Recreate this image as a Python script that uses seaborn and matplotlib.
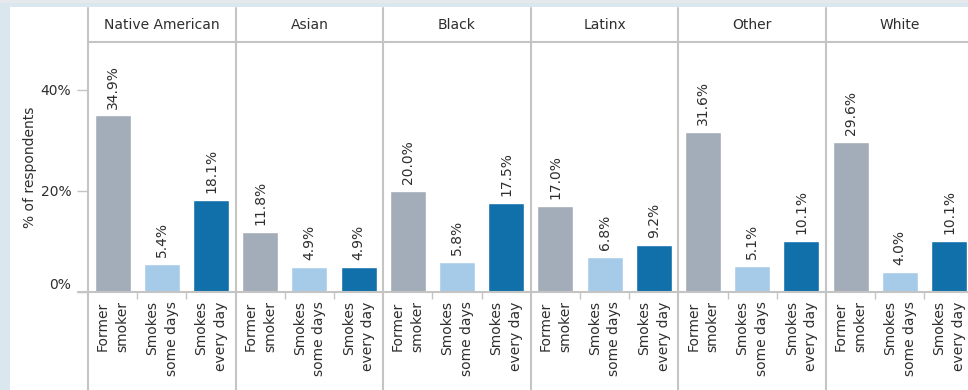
import matplotlib
matplotlib.use('Agg')

import pandas as pd
import matplotlib.pyplot as plt
import seaborn as sns
from matplotlib.lines import Line2D
from matplotlib.patches import Rectangle

# === Data ===
groups = ["Native American", "Asian", "Black", "Latinx", "Other", "White"]
statuses = ["Former\nsmoker", "Smokes\nsome days", "Smokes\nevery day"]
former = [34.9, 11.8, 20.0, 17.0, 31.6, 29.6]
some_days = [5.4, 4.9, 5.8, 6.8, 5.1, 4.0]
every_day = [18.1, 4.9, 17.5, 9.2, 10.1, 10.1]
yticks = [0, 20, 40]
ytick_labels = ["0%", "20%", "40%"]

rows = []
for g, a, b, c in zip(groups, former, some_days, every_day):
    for s, v in zip(statuses, [a, b, c]):
        rows.append({"group": g, "status": s, "pct": v})
df = pd.DataFrame(rows)

palette = dict(zip(statuses, ["#a3acb9", "#a6cbe8", "#1170aa"]))
text_col = "#2e2e2e"
line_col = "#c4c4c4"
fs = 10

sns.set_style("white")
plt.rcParams['font.family'] = ['DejaVu Sans']

W, H = 968, 390
fig = plt.figure(figsize=(W / 100, H / 100), dpi=100)
fig.patch.set_facecolor("#dae7ef")
fig.add_artist(Rectangle((10 / W, 0), 1, (H - 7) / H, transform=fig.transFigure,
                         facecolor="white", edgecolor="none", zorder=0))
fig.add_artist(Rectangle((0, (H - 3) / H), 1, 3 / H, transform=fig.transFigure,
                         facecolor="#e6e9ec", edgecolor="none", zorder=0))


def fx(px):
    return px / W


def fy(py):
    return 1 - py / H


x0, pw = 88, 147.6
top, base = 42, 291.7
ymax = (base - top) / 5.05

for i, g in enumerate(groups):
    left = x0 + i * pw
    ax = fig.add_axes([fx(left), fy(base), pw / W, (base - top) / H])
    ax.patch.set_alpha(0)
    sub = df[df["group"] == g]
    sns.barplot(data=sub, x="status", y="pct", hue="status", order=statuses,
                hue_order=statuses, palette=palette, width=0.73, legend=False,
                saturation=1, ax=ax, errorbar=None)
    for cont in ax.containers:
        ax.bar_label(cont, labels=[f"{v:.1f}%" for v in cont.datavalues],
                     rotation=90, padding=5, fontsize=fs, color=text_col)
    ax.set_xlim(-0.5, 2.5)
    ax.set_ylim(0, ymax)
    ax.set_xlabel("")
    ax.set_ylabel("")
    for sp in ax.spines.values():
        sp.set_visible(False)
    ax.set_xticks([0, 1, 2])
    ax.set_xticklabels(statuses, rotation=90, fontsize=fs, color=text_col,
                       va="top", ha="center", multialignment="right", linespacing=1.5)
    ax.set_xticks([0.5, 1.5], minor=True)
    ax.tick_params(axis="x", which="major", length=0, pad=7)
    ax.tick_params(axis="x", which="minor", length=5, width=1, color=line_col, direction="out", bottom=True)
    if i == 0:
        ax.set_yticks(yticks)
        ax.set_yticklabels(ytick_labels, fontsize=fs, color=text_col)
        ax.tick_params(axis="y", length=8, width=1, color=line_col, pad=4, left=True)
        ax.get_yticklabels()[0].set_va("bottom")
        ax.set_ylabel("% of respondents", fontsize=fs, color=text_col)
        ax.yaxis.set_label_coords(-0.345, 0.5)
    else:
        ax.set_yticks([])
    ax.text(0.5, 1 + 17 / (base - top), g, transform=ax.transAxes,
            ha="center", va="center", fontsize=fs, color=text_col)

# facet divider lines, header rule and baseline
for i in range(7):
    xp = x0 + i * pw
    fig.add_artist(Line2D([fx(xp), fx(xp)], [fy(8), 0], color=line_col, lw=1.5))
fig.add_artist(Line2D([fx(x0), 1], [fy(top), fy(top)], color=line_col, lw=1.5))
fig.add_artist(Line2D([fx(78), 1], [fy(base), fy(base)], color=line_col, lw=1.5))

plt.savefig("out.png", dpi=100, facecolor=fig.get_facecolor())
plt.close()
